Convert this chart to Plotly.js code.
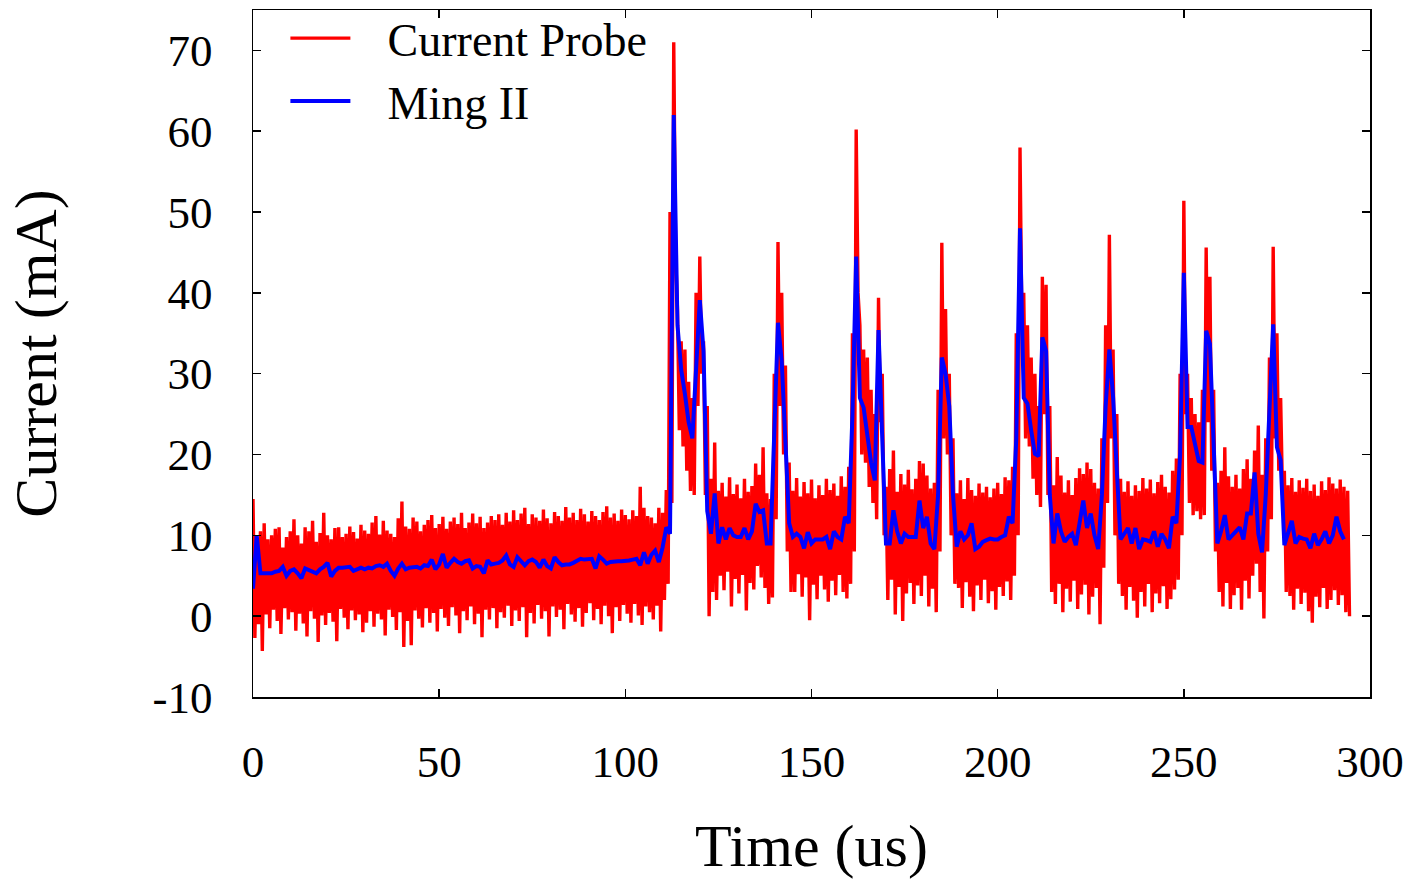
<!DOCTYPE html>
<html>
<head>
<meta charset="utf-8">
<script src="https://cdn.plot.ly/plotly-3.0.1.min.js"></script>
<style>html,body{margin:0;padding:0;background:#fff;}#chart{width:1417px;height:879px;}</style>
</head>
<body>
<div id="chart"></div>
<script>
// Blue trace "Ming II": one value per microsecond, t = 0..293
const mingTime0 = 0;
const mingValues = [
 3.4,10,5.3,5.3,5.4,5.3,5.5,5.6,6.1,5.0,
 5.6,5.8,5.3,4.7,5.9,5.7,5.5,5.3,5.8,6.1,
 6.6,4.9,5.6,6.0,6.0,6.1,6.1,5.6,5.8,6.0,
 5.8,6.0,5.9,6.2,6.3,6.1,6.5,5.6,5.0,5.9,
 6.5,5.8,6.0,6.0,6.1,5.9,6.3,6.2,7.0,5.8,
 6.4,7.7,6.0,6.6,7.1,6.7,6.5,6.8,6.9,5.9,
 6.2,6.1,5.3,6.9,6.4,6.5,6.6,6.9,7.5,6.4,
 6.1,7.3,6.7,6.3,6.8,7.0,6.7,6.0,7.0,6.2,
 5.9,7.3,6.7,6.3,6.4,6.4,6.6,6.9,7.1,7.0,
 7.0,7.1,5.9,7.4,7.0,6.5,6.7,6.8,6.8,6.8,
 6.8,6.9,7.0,7.1,6.3,7.9,6.5,7.6,8.1,6.7,
 8.5,11.0,10.2,62.0,36.0,30.5,27.5,24.0,22.0,30.0,
 39.1,32.8,13.0,10.2,15.2,9.0,11.0,9.5,10.9,10.0,
 9.8,9.8,10.9,9.5,10.5,13.9,12.9,13.1,9.0,9.0,
 22.0,36.3,31.6,21.0,11.5,9.8,10.2,9.8,8.4,10.4,
 9.0,9.5,9.5,9.5,9.8,8.3,10.5,9.8,9.5,12.3,
 11.5,25.0,44.5,27.0,25.8,22.0,19.0,16.8,35.4,22.0,
 9.0,9.0,13.1,10.5,9.0,10.2,9.8,9.8,9.8,14.3,
 10.9,12.3,9.0,8.3,15.0,32.0,30.0,26.0,15.0,8.6,
 10.5,9.5,10.0,11.5,8.3,8.6,9.2,9.4,9.6,9.5,
 9.5,9.8,10.0,12.3,11.5,22.0,48.0,27.0,26.3,23.0,
 20.1,19.8,34.5,32.8,15.0,9.0,12.7,10.5,9.2,9.8,
 10.2,8.8,11.5,14.3,10.9,12.7,10.0,8.3,15.0,26.0,
 33.0,27.1,18.0,9.5,10.2,10.9,9.0,10.9,8.3,9.5,
 9.4,9.2,10.5,8.6,10.2,9.5,8.4,12.3,11.5,20.0,
 42.5,23.4,23.4,21.0,19.2,19.0,35.3,33.7,22.0,9.0,
 10.5,12.5,9.5,10.0,10.5,11.0,9.5,12.7,12.7,17.8,
 10.2,7.9,15.0,25.0,36.1,20.9,19.3,8.8,10.5,11.8,
 9.0,9.8,9.6,9.5,8.4,10.2,8.8,9.5,10.5,9.0,
 10.0,12.3,10.5,9.5
];

// Red trace "Current Probe": noisy signal read as alternating samples,
// high sample at t and low sample at t + 0.5, t = 0..294
const probeHigh = [
 14.5,9,10.5,11.5,9.5,10,10.8,11,8.5,9.8,
 10.5,12,10,9,11,10.5,11.8,9.2,10.3,12.8,
 10,9.5,10.9,11,9.8,10.2,11.1,10.4,9.6,11.3,
 10.6,10.2,11.6,12.4,10.1,11.8,10.6,10.2,9.8,12.1,
 14.2,11.1,10.8,12.2,11.7,10.5,11.3,11.9,12.5,10.9,
 11.4,12.3,10.8,11.7,12.2,11.4,12.8,10.9,11.6,12.7,
 11.5,12.3,10.9,11.6,12.4,11.9,12.6,11.3,12.8,11.7,
 13.1,11.9,12.7,13.4,11.4,12.6,12.2,11.8,13.2,12.1,
 11.5,12.9,12.4,11.8,13.5,12.2,12.8,11.9,13.3,12.6,
 11.7,13.0,12.4,11.9,12.9,13.6,12.2,12.7,11.8,13.2,
 12.5,12.0,13.1,12.4,16.0,13.4,12.4,12.2,11.5,13.4,
 12.8,15.6,50,71,38,34,33,29,27,40,
 44.5,34,26,17,21.5,15.5,16.5,14.8,17.2,15.1,
 16.3,14.6,17.0,15.4,16.1,18.9,17.5,20.9,15.2,14.5,
 30,46.3,40,31,19,15.5,17.1,14.8,16.6,15.2,
 16.9,14.6,16.2,15.0,17.0,15.6,16.4,14.9,17.3,16.0,
 18.5,35,60.2,36,33,32,28,25,39.4,30,
 16.0,18.2,20.5,15.4,17.6,16.3,18.1,15.7,17.0,19.2,
 18.9,17.4,15.8,16.5,28,46.2,38,30,22,15.2,
 16.8,14.5,17.1,15.6,14.9,16.4,15.3,16.0,14.7,15.8,
 16.5,15.1,17.2,16.8,18.5,35,58,40,36,32,
 30,26,42,41,26,16.2,19.7,17.4,15.3,16.8,
 15.0,17.1,18.3,17.6,19.0,18.2,16.5,15.8,22,36,
 47.2,33,25,17.0,15.4,16.7,14.9,16.2,15.5,17.1,
 15.8,16.9,15.2,16.6,17.5,16.0,15.3,18.0,19.5,30,
 51.4,30,27,25,24,28,45.6,42,28,16.5,
 18.0,20.9,17.3,16.0,17.5,15.8,18.2,19.4,17.0,20.5,
 23.6,17.5,22,32,45.7,35,27,18,16.2,17.1,
 15.4,16.8,15.9,17.0,15.5,16.3,14.9,16.7,15.6,17.2,
 16.4,15.8,16.9,16.0,15.5
];
const probeLow = [
 -2.7,-1.0,-4.3,0.2,-1.5,0.8,-0.6,-2.2,1.0,-0.4,
 0.5,-1.8,0.3,-0.9,-2.5,0.6,-0.3,-3.2,0.1,-1.1,
 0.4,-0.7,-3.1,0.9,-0.2,-1.6,0.7,-0.5,0.2,-2.0,
 -0.8,0.6,-1.3,0.3,-0.4,-2.4,0.8,-0.1,-1.7,0.5,
 -3.8,-0.6,-3.6,0.7,-0.3,-1.4,1.0,-0.8,0.4,-1.9,
 0.9,-0.2,-1.2,1.1,0.1,-2.1,0.6,-0.5,1.2,-1.0,
 0.3,-2.6,0.8,-0.4,1.0,-1.5,0.5,-0.2,1.3,-1.2,
 0.7,-0.6,1.1,-2.6,0.4,-0.9,1.4,-0.3,0.6,-2.5,
 1.2,-0.1,0.8,-1.6,1.5,0.2,-0.7,1.0,-1.3,0.4,
 1.6,-0.5,0.9,-1.0,1.3,0.0,-2.1,1.1,-0.6,1.4,
 0.3,-0.8,1.5,0.1,-1.1,1.2,0.5,-0.4,1.3,-1.9,
 2.0,4,14,45,23,21,18,15.5,15,26,
 30,15,0,3,2,5,3.2,5.5,1.2,4.6,
 2.8,5.1,0.7,4.1,3.3,6.2,4.8,3.5,1.5,2.3,
 12,26,20,8,3,3.0,5.2,2.4,4.8,-0.5,
 3.9,2.1,5.0,3.3,1.8,4.4,2.6,5.1,3.0,2.2,
 4.0,8,40,20,19,16,14,12,24,10,
 2.0,4.5,0.2,3.6,-0.6,2.8,4.1,1.5,3.8,2.5,
 5.0,1.2,3.4,0.5,8,22,20,10,4,3.5,
 1.0,4.2,2.4,0.6,3.8,2.0,4.5,1.6,3.1,0.8,
 3.6,2.5,4.3,2.0,5.0,10,36,22,21,17,
 15,13.5,25,15,3,1.5,4.0,0.5,3.4,1.8,
 4.4,0.9,2.7,3.9,0.2,2.4,3.5,-1.0,6,14,
 22,10,4,2.5,0.8,3.6,1.9,-0.2,3.0,1.2,
 4.0,0.5,2.8,1.6,3.7,0.9,2.1,3.3,4.5,10,
 25,14,12.5,13,12,12.5,24,18,8,3.0,
 1.2,4.1,0.9,2.6,3.5,0.8,4.4,2.2,5.0,6.5,
 3.0,-0.3,8,12,22,18,15,3,2.5,0.8,
 3.4,1.5,2.9,0.6,-0.8,2.4,1.1,3.5,0.9,2.0,
 3.2,1.4,2.6,0.5,0
];

const legendNames = ['Current Probe', 'Ming II'];
const xTickVals = [0, 50, 100, 150, 200, 250, 300];
const xTickText = ['0', '50', '100', '150', '200', '250', '300'];
const yTickVals = [-10, 0, 10, 20, 30, 40, 50, 60, 70];
const yTickText = ['-10', '0', '10', '20', '30', '40', '50', '60', '70'];

// build traces
const probeX = [], probeY = [];
for (let i = 0; i < probeHigh.length; i++) {
  probeX.push(i); probeY.push(probeHigh[i]);
  probeX.push(i + 0.5); probeY.push(probeLow[i]);
}
const mingX = mingValues.map((v, i) => mingTime0 + i);

const serif = '"Liberation Serif", "Times New Roman", serif';
const gap = '\u2002\u2009';

const traces = [
  {x: probeX, y: probeY, name: gap + legendNames[0], mode: 'lines', type: 'scatter',
   line: {color: '#ff0000', width: 3.4}},
  {x: mingX, y: mingValues, name: gap + legendNames[1], mode: 'lines', type: 'scatter',
   line: {color: '#0000ff', width: 4}}
];

const axisCommon = {
  showline: true, mirror: 'ticks', linecolor: '#000', linewidth: 1.5,
  ticks: 'inside', ticklen: 8, tickwidth: 1.5, tickcolor: '#000',
  showgrid: false, zeroline: false, automargin: false,
  tickfont: {family: serif, size: 45, color: '#000'}
};

const layout = {
  width: 1417, height: 879,
  paper_bgcolor: '#fff', plot_bgcolor: '#fff',
  margin: {l: 253, r: 47, t: 10, b: 182, autoexpand: false},
  showlegend: true,
  legend: {x: 0.029, y: 1.012, xanchor: 'left', yanchor: 'top',
    bgcolor: 'rgba(0,0,0,0)', borderwidth: 0, itemwidth: 60,
    font: {family: serif, size: 46, color: '#000'}, tracegroupgap: 0},
  xaxis: Object.assign({}, axisCommon, {
    range: [0, 300], tickvals: xTickVals, ticktext: xTickText, ticklabelstandoff: 24,
    title: {text: 'Time (us)', font: {family: serif, size: 60, color: '#000'}, standoff: 39}
  }),
  yaxis: Object.assign({}, axisCommon, {
    range: [-10, 75], tickvals: yTickVals, ticktext: yTickText, ticklabelstandoff: 30,
    title: {text: 'Current (mA)', font: {family: serif, size: 60, color: '#000'}, standoff: 76}
  })
};

Plotly.newPlot('chart', traces, layout, {displayModeBar: false, staticPlot: true});
</script>
</body>
</html>
